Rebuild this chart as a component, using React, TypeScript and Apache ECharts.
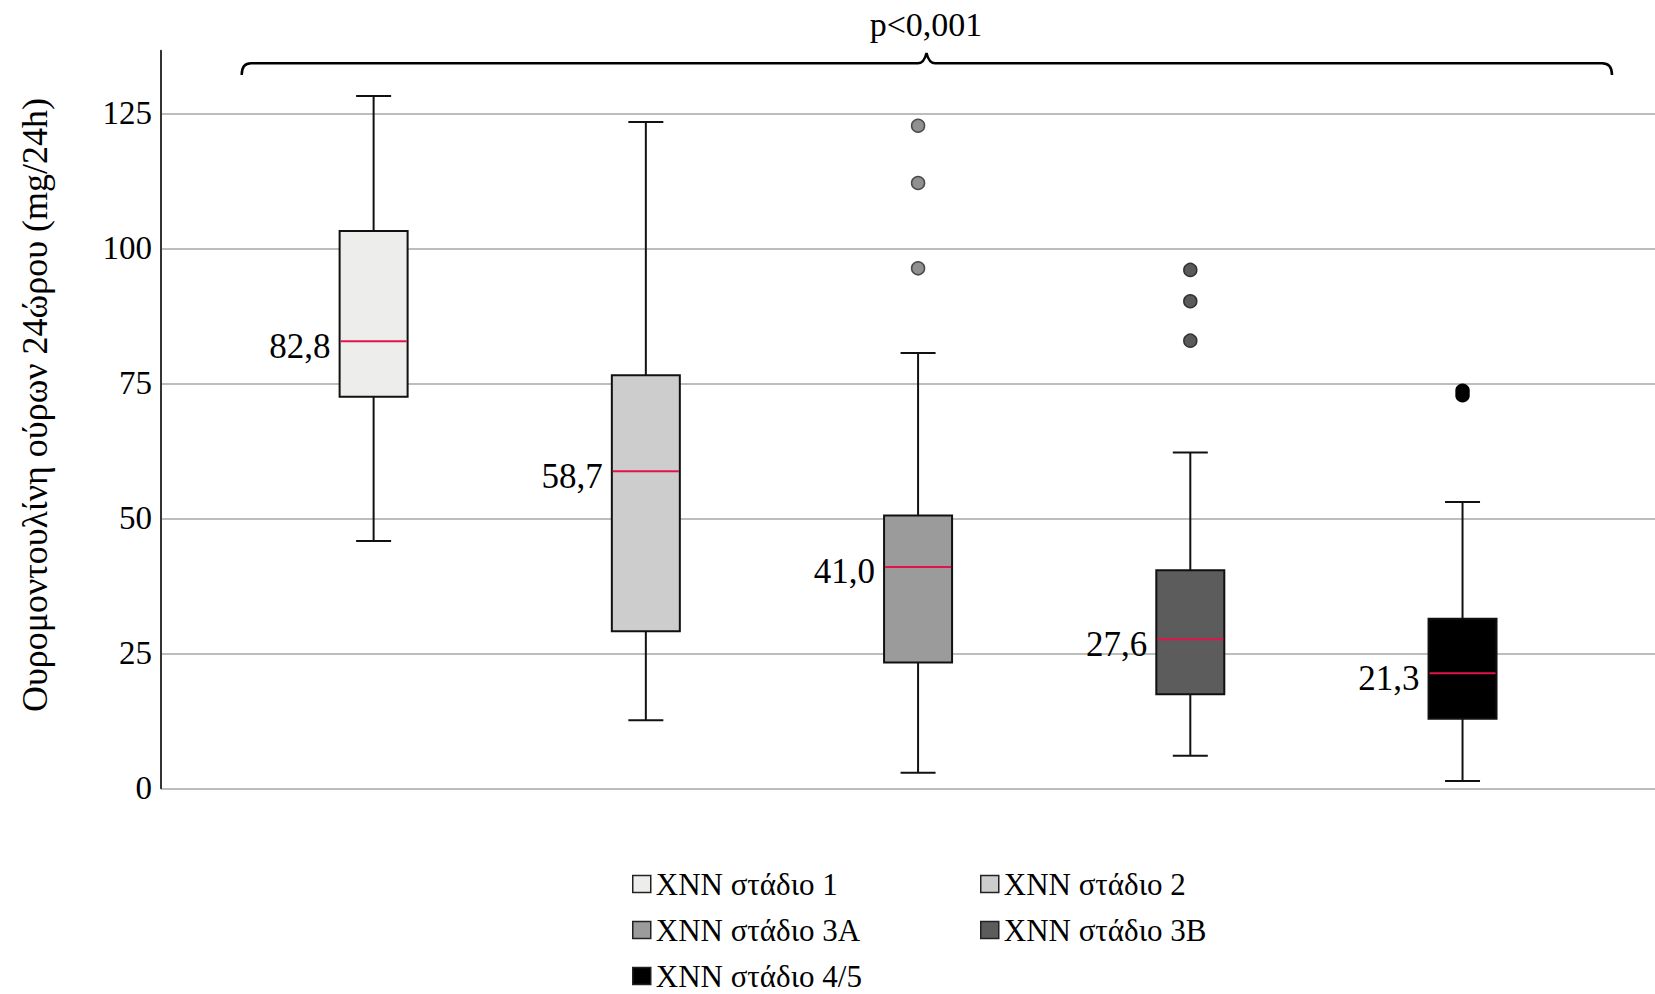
import React, { useEffect, useRef } from "react";
import * as echarts from "echarts";

// ---- data ----
const stages = ["ΧΝΝ στάδιο 1", "ΧΝΝ στάδιο 2", "ΧΝΝ στάδιο 3A", "ΧΝΝ στάδιο 3B", "ΧΝΝ στάδιο 4/5"];
// [min, Q1, median, Q3, max]
const box1 = [45.8, 72.5, 82.8, 103.2, 128.2];
const box2 = [12.6, 29.1, 58.7, 76.5, 123.4];
const box3A = [2.9, 23.3, 41.0, 50.5, 80.6];
const box3B = [6.05, 17.4, 27.6, 40.4, 62.2];
const box45 = [1.35, 12.9, 21.3, 31.4, 53.0];
const boxes = [box1, box2, box3A, box3B, box45];

const outliers3A = [122.7, 112.1, 96.3];
const outliers3B = [96.0, 90.2, 82.9];
const outliers45 = [73.6, 72.8];

const yTicks = { min: 0, interval: 25 };
const pValueText = "p<0,001";
const yTitle = "Ουρομοντουλίνη ούρων 24ώρου (mg/24h)";

// ---- styles ----
const fills = ["#EDEDEB", "#CDCDCD", "#9B9B9B", "#5C5C5C", "#000000"];
const outlierFill = ["#909090", "#5A5A5A", "#000000"];
const outlierBorder = ["#4a4a4a", "#333333", "#000000"];
const FONT = '"Liberation Serif", "Times New Roman", serif';
const MEDIAN_COLOR = "#E0134A";

export default function App() {
  const ref = useRef<HTMLDivElement>(null);

  useEffect(() => {
    if (!ref.current) return;
    const chart = echarts.init(ref.current, undefined, { renderer: "svg" });

    echarts.graphic.registerShape(
      "brace",
      echarts.graphic.extendPath(
        "M 241.7 75 Q 241.7 63.3 251 63.3 L 918 63.3 Q 924 63.3 926.5 53 Q 929 63.3 935 63.3 L 1602 63.3 Q 1612 63.3 1612 75",
        {}
      ) as any
    );

    const BW = 68;
    const CW = 35;

    const boxSeries = stages.map((name, i) => ({
      name,
      type: "custom",
      itemStyle: { color: fills[i], borderColor: "#111", borderWidth: 1.5 },
      data: [[i + 1, ...boxes[i]]],
      renderItem: (params: any, api: any) => {
        const x = api.value(0);
        const lo = api.coord([x, api.value(1)]);
        const q1 = api.coord([x, api.value(2)]);
        const med = api.coord([x, api.value(3)]);
        const q3 = api.coord([x, api.value(4)]);
        const hi = api.coord([x, api.value(5)]);
        const cx = lo[0];
        const ls = { stroke: "#111", lineWidth: 2 };
        const medVal = api.value(3) as number;
        return {
          type: "group",
          children: [
            { type: "line", shape: { x1: cx, y1: hi[1], x2: cx, y2: q3[1] }, style: ls },
            { type: "line", shape: { x1: cx, y1: q1[1], x2: cx, y2: lo[1] }, style: ls },
            { type: "line", shape: { x1: cx - CW / 2, y1: hi[1], x2: cx + CW / 2, y2: hi[1] }, style: ls },
            { type: "line", shape: { x1: cx - CW / 2, y1: lo[1], x2: cx + CW / 2, y2: lo[1] }, style: ls },
            {
              type: "rect",
              shape: { x: cx - BW / 2, y: q3[1], width: BW, height: q1[1] - q3[1] },
              style: { fill: fills[i], stroke: "#111", lineWidth: 2 },
            },
            {
              type: "line",
              shape: { x1: cx - BW / 2 + 1, y1: med[1], x2: cx + BW / 2 - 1, y2: med[1] },
              style: { stroke: MEDIAN_COLOR, lineWidth: 2 },
            },
            {
              type: "text",
              x: cx - BW / 2 - 9,
              y: med[1] + 5,
              style: {
                text: medVal.toFixed(1).replace(".", ","),
                fill: "#000",
                fontSize: 35,
                fontFamily: FONT,
                align: "right",
                verticalAlign: "middle",
              },
            },
          ],
        };
      },
    }));

    const outlierSets = [
      { idx: 3, vals: outliers3A },
      { idx: 4, vals: outliers3B },
      { idx: 5, vals: outliers45 },
    ];
    const scatterSeries = outlierSets.map((o, k) => ({
      type: "scatter",
      symbol: "circle",
      symbolSize: 13,
      itemStyle: { color: outlierFill[k], borderColor: outlierBorder[k], borderWidth: 1.5, opacity: 1 },
      data: o.vals.map((v) => [o.idx, v]),
      z: 3,
    }));

    const legendCommon = {
      orient: "vertical",
      padding: 0,
      height: 160,
      itemWidth: 18,
      itemHeight: 17,
      itemGap: 15,
      selectedMode: false,
      icon: "rect",
      textStyle: { fontSize: 31, lineHeight: 31, fontFamily: FONT, color: "#000" },
    };
    const legendItem = (i: number) => ({
      name: stages[i],
      itemStyle: { color: fills[i], borderColor: "#222", borderWidth: 1.5 },
    });

    chart.setOption({
      animation: false,
      backgroundColor: "#fff",
      grid: { left: 161, right: 0, top: 50.7, bottom: 205.7, containLabel: false },
      xAxis: { type: "value", show: false, min: 0.219, max: 5.707 },
      yAxis: {
        type: "value",
        min: yTicks.min,
        max: 136.6,
        interval: yTicks.interval,
        axisLine: { show: true, lineStyle: { color: "#333", width: 2 } },
        axisTick: { show: false },
        axisLabel: {
          showMaxLabel: false,
          margin: 9,
          fontSize: 33,
          fontFamily: FONT,
          color: "#000",
        },
        splitLine: { show: true, showMaxLine: false, lineStyle: { color: "#BDBDBD", width: 2 } },
      },
      legend: [
        { ...legendCommon, left: 632, top: 868.5, data: [legendItem(0), legendItem(2), legendItem(4)] },
        { ...legendCommon, left: 980, top: 868.5, data: [legendItem(1), legendItem(3)] },
      ],
      graphic: [
        {
          type: "brace",
          x: 0,
          y: 0,
          style: { fill: "none", stroke: "#000", lineWidth: 2.5 },
        },
        {
          type: "text",
          x: 926,
          y: 24,
          style: {
            text: pValueText,
            fontSize: 34,
            fontFamily: FONT,
            fill: "#000",
            align: "center",
            verticalAlign: "middle",
          },
        },
        {
          type: "text",
          x: 35,
          y: 405,
          rotation: Math.PI / 2,
          style: {
            text: yTitle,
            fontSize: 36,
            fontFamily: FONT,
            fill: "#000",
            align: "center",
            verticalAlign: "middle",
          },
        },
      ],
      series: [...boxSeries, ...scatterSeries],
    } as any);

    return () => chart.dispose();
  }, []);

  return (
    <div
      ref={ref}
      style={{ position: "fixed", left: 0, top: 0, width: 1655, height: 994, background: "#fff" }}
    />
  );
}
